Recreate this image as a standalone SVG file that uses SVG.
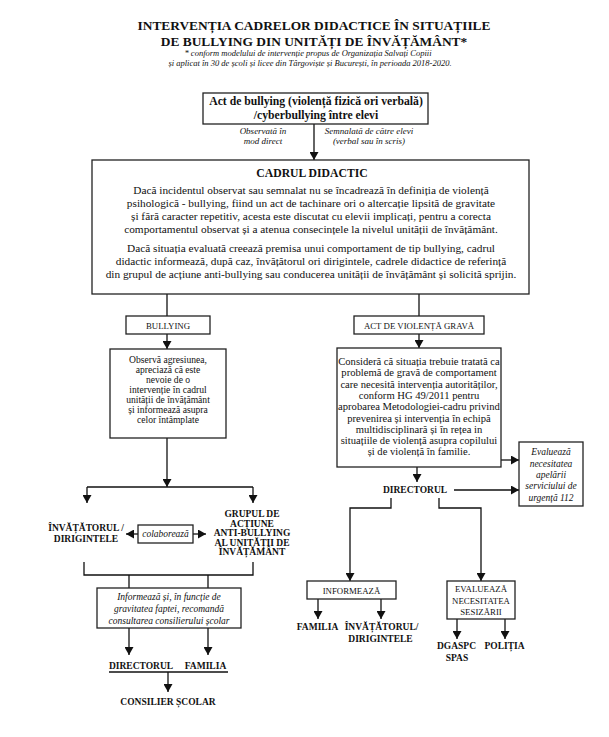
<svg xmlns="http://www.w3.org/2000/svg" width="609" height="737" viewBox="0 0 609 737">
<defs>
<style>
text{font-family:"Liberation Serif","Times New Roman",serif;fill:#111;text-anchor:middle}
.title{font-size:13.4px;font-weight:bold}
.sub{font-size:8.5px;font-style:italic}
.hb{font-size:11.7px;font-weight:bold}
.body{font-size:11.3px}
.sm{font-size:9.6px}
.rb{font-size:10.6px}
.it{font-size:9px;font-style:italic}
.iv{font-size:9.5px;font-style:italic}
.lb{font-size:9.5px;font-weight:bold}
.cap{font-size:8.8px}
.box{fill:#fff;stroke:#222;stroke-width:1.3}
.ln{fill:none;stroke:#111;stroke-width:1.3}
.ar{fill:none;stroke:#111;stroke-width:1.3;marker-end:url(#ah)}
</style>
<marker id="ah" markerWidth="8" markerHeight="9" refX="8" refY="4.5" orient="auto" markerUnits="userSpaceOnUse">
<path d="M0,0 L8,4.5 L0,9 z" fill="#111"/>
</marker>
</defs>
<rect width="609" height="737" fill="#fff"/>

<g id="title">
<text class="title" x="314" y="30">INTERVENȚIA CADRELOR DIDACTICE ÎN SITUAȚIILE</text>
<text class="title" x="314" y="46">DE BULLYING DIN UNITĂȚI DE ÎNVĂȚĂMÂNT*</text>
<text class="sub" x="308" y="56">* conform modelului de intervenție propus de Organizația Salvați Copiii</text>
<text class="sub" x="310" y="66">și aplicat în 30 de școli și licee din Târgoviște și București, în perioada 2018-2020.</text>
</g>

<g id="connectors">
<line class="ar" x1="314" y1="124" x2="314" y2="160"/>
<line class="ln" x1="167" y1="294" x2="167" y2="316"/>
<line class="ln" x1="419" y1="294" x2="419" y2="316"/>
<line class="ar" x1="167" y1="334" x2="167" y2="349"/>
<line class="ar" x1="419" y1="334" x2="419" y2="348"/>
<line class="ar" x1="167" y1="438" x2="167" y2="487"/>
<polyline class="ln" points="87,487 253,487"/>
<line class="ar" x1="87" y1="487" x2="87" y2="503"/>
<line class="ar" x1="253" y1="487" x2="253" y2="503"/>
<line class="ar" x1="138" y1="534" x2="126" y2="534"/>
<line class="ar" x1="193" y1="534" x2="206" y2="534"/>
<polyline class="ln" points="84,562 84,575 253,575 253,562"/>
<line class="ln" x1="129" y1="575" x2="129" y2="588"/>
<line class="ln" x1="208" y1="575" x2="208" y2="588"/>
<line class="ar" x1="129" y1="628" x2="129" y2="655"/>
<line class="ar" x1="208" y1="628" x2="208" y2="655"/>
<line class="ln" x1="109" y1="672" x2="228" y2="672"/>
<line class="ar" x1="168" y1="672" x2="168" y2="692"/>
<line class="ar" x1="417" y1="467" x2="417" y2="482"/>
<line class="ar" x1="501" y1="460" x2="519" y2="460"/>
<line class="ar" x1="454" y1="490" x2="519" y2="490"/>
<polyline class="ar" points="391,498 391,508 350,508 350,581"/>
<polyline class="ar" points="439,498 439,508 481,508 481,581"/>
<line class="ar" x1="318" y1="599" x2="318" y2="619"/>
<line class="ar" x1="381" y1="599" x2="381" y2="619"/>
<line class="ar" x1="457" y1="619" x2="457" y2="639"/>
<line class="ar" x1="505" y1="619" x2="505" y2="639"/>
</g>

<g id="act-bullying">
<rect class="box" x="203" y="93" width="225" height="31"/>
<text class="hb" x="316" y="105">Act de bullying (violență fizică ori verbală)</text>
<text class="hb" x="316" y="119">/cyberbullying între elevi</text>
</g>

<g id="label-observata">
<text class="it" x="263" y="134">Observată în</text>
<text class="it" x="263" y="144">mod direct</text>
</g>
<g id="label-semnalata">
<text class="it" x="369" y="134">Semnalată de către elevi</text>
<text class="it" x="369" y="144">(verbal sau în scris)</text>
</g>

<g id="cadrul-didactic">
<rect class="box" x="92" y="160" width="437" height="134"/>
<text class="hb" x="312" y="177">CADRUL DIDACTIC</text>
<text class="body" x="311" y="194">Dacă incidentul observat sau semnalat nu se încadrează în definiția de violență</text>
<text class="body" x="311" y="207">psihologică - bullying, fiind un act de tachinare ori o altercație lipsită de gravitate</text>
<text class="body" x="311" y="220">și fără caracter repetitiv, acesta este discutat cu elevii implicați, pentru a corecta</text>
<text class="body" x="311" y="233">comportamentul observat și a atenua consecințele la nivelul unității de învățământ.</text>
<text class="body" x="311" y="252">Dacă situația evaluată creează premisa unui comportament de tip bullying, cadrul</text>
<text class="body" x="311" y="265">didactic informează, după caz, învățătorul ori dirigintele, cadrele didactice de referință</text>
<text class="body" x="311" y="278">din grupul de acțiune anti-bullying sau conducerea unității de învățământ și solicită sprijin.</text>
</g>

<g id="bullying">
<rect class="box" x="126" y="316" width="84" height="18"/>
<text class="cap" x="168" y="328.5">BULLYING</text>
</g>

<g id="observa">
<rect class="box" x="110" y="349" width="116" height="89"/>
<text class="sm" x="168" y="363">Observă agresiunea,</text>
<text class="sm" x="168" y="373">apreciază că este</text>
<text class="sm" x="168" y="383">nevoie de o</text>
<text class="sm" x="168" y="393">intervenție în cadrul</text>
<text class="sm" x="168" y="403">unității de învățământ</text>
<text class="sm" x="168" y="413">și informează asupra</text>
<text class="sm" x="168" y="423">celor întâmplate</text>
</g>

<g id="invatatorul-left">
<text class="lb" x="86" y="531">ÎNVĂȚĂTORUL /</text>
<text class="lb" x="86" y="542">DIRIGINTELE</text>
</g>

<g id="colaboreaza">
<rect class="box" x="138" y="525" width="55" height="18"/>
<text class="iv" x="165.5" y="537">colaborează</text>
</g>

<g id="grupul">
<text class="lb" x="252" y="517">GRUPUL DE</text>
<text class="lb" x="252" y="526.5">ACȚIUNE</text>
<text class="lb" x="252" y="536">ANTI-BULLYING</text>
<text class="lb" x="252" y="545.5">AL UNITĂȚII DE</text>
<text class="lb" x="252" y="555">ÎNVĂȚĂMÂNT</text>
</g>

<g id="informeaza-left">
<rect class="box" x="97" y="588" width="144" height="40"/>
<text class="iv" x="169" y="600">Informează și, în funcție de</text>
<text class="iv" x="169" y="612">gravitatea faptei, recomandă</text>
<text class="iv" x="169" y="624">consultarea consilierului școlar</text>
</g>

<g id="directorul-left">
<text class="lb" x="141" y="669">DIRECTORUL</text>
</g>
<g id="familia-left">
<text class="lb" x="205.5" y="669">FAMILIA</text>
</g>
<g id="consilier">
<text class="lb" x="168" y="705">CONSILIER ȘCOLAR</text>
</g>

<g id="act-violenta">
<rect class="box" x="354" y="316" width="130" height="18"/>
<text class="cap" x="419" y="328.5">ACT DE VIOLENȚĂ GRAVĂ</text>
</g>

<g id="considera">
<rect class="box" x="337" y="348" width="164" height="119"/>
<text class="rb" x="419" y="365">Consideră că situația trebuie tratată ca</text>
<text class="rb" x="419" y="376.3">problemă de gravă de comportament</text>
<text class="rb" x="419" y="387.6">care necesită intervenția autorităților,</text>
<text class="rb" x="419" y="398.9">conform HG 49/2011 pentru</text>
<text class="rb" x="419" y="410.2">aprobarea Metodologiei-cadru privind</text>
<text class="rb" x="419" y="421.5">prevenirea și intervenția în echipă</text>
<text class="rb" x="419" y="432.8">multidisciplinară și în rețea in</text>
<text class="rb" x="419" y="444.1">situațiile de violență asupra copilului</text>
<text class="rb" x="419" y="455.4">și de violență în familie.</text>
</g>

<g id="evalueaza-112">
<rect class="box" x="519" y="442" width="64" height="64"/>
<text class="iv" x="551" y="454.5">Evaluează</text>
<text class="iv" x="551" y="466.5">necesitatea</text>
<text class="iv" x="551" y="477.5">apelării</text>
<text class="iv" x="551" y="488.5">serviciului de</text>
<text class="iv" x="551" y="500.5">urgență 112</text>
</g>

<g id="directorul-right">
<text class="lb" x="415" y="493">DIRECTORUL</text>
</g>

<g id="informeaza-right">
<rect class="box" x="307" y="581" width="89" height="18"/>
<text class="cap" x="351.5" y="593.5">INFORMEAZĂ</text>
</g>

<g id="evalueaza-sesizarii">
<rect class="box" x="447" y="581" width="68" height="38"/>
<text class="cap" x="481" y="592">EVALUEAZĂ</text>
<text class="cap" x="481" y="603.5">NECESITATEA</text>
<text class="cap" x="481" y="615">SESIZĂRII</text>
</g>

<g id="familia-right">
<text class="lb" x="317.5" y="630">FAMILIA</text>
</g>
<g id="invatatorul-right">
<text class="lb" x="381.5" y="630">ÎNVĂȚĂTORUL/</text>
<text class="lb" x="380.5" y="642">DIRIGINTELE</text>
</g>
<g id="dgaspc">
<text class="lb" x="456.5" y="649">DGASPC</text>
<text class="lb" x="457" y="661">SPAS</text>
</g>
<g id="politia">
<text class="lb" x="504.5" y="649">POLIȚIA</text>
</g>
</svg>
